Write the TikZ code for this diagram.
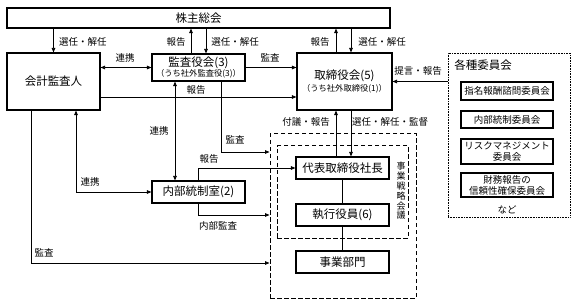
\documentclass[tikz,border=0pt]{standalone}
\usepackage{fontspec}
\setmainfont{Noto Sans CJK JP}
\usetikzlibrary{arrows.meta,calc}
\begin{document}
\begin{tikzpicture}[x=1pt,y=-1pt,
  box/.style={draw, line width=1.1pt, inner sep=0pt, align=center, font=\fontsize{11.5}{13}\selectfont},
  cbox/.style={draw, line width=1.1pt, inner sep=0pt, align=center, minimum width=92pt, font=\fontsize{9.5}{11}\selectfont},
  lbl/.style={inner sep=0pt, font=\fontsize{9.5}{11}\selectfont},
  con/.style={line width=0.8pt},
  arr/.style={con, -{Triangle[length=4.5pt,width=3.6pt]}},
  arrb/.style={con, {Triangle[length=4.5pt,width=3.6pt]}-{Triangle[length=4.5pt,width=3.6pt]}},
  dashbox/.style={draw, line width=1pt, dash pattern=on 4.5pt off 2.5pt, inner sep=0pt},
  dotbox/.style={draw, line width=0.8pt, dash pattern=on 0.8pt off 0.8pt, inner sep=0pt}]
\useasboundingbox (0,0) rectangle (574,305);

% dashed / dotted frames
\node[dashbox, minimum width=146pt, minimum height=164pt] (ob) at (343,216) {};
\node[dashbox, minimum width=131pt, minimum height=92pt] (ib) at (342.5,192) {};
\node[dotbox, minimum width=122pt, minimum height=164pt] (kc) at (509,135) {};

% main boxes
\node[box, minimum width=383pt, minimum height=20pt] (sh) at (198.5,18) {株主総会};
\node[box, minimum width=93pt, minimum height=57pt] (ka) at (53.5,81.5) {会計監査人};
\node[box, minimum width=93pt, minimum height=27pt] (ky) at (198.5,67.5) {監査役会(3)\\[-2.5pt]{\fontsize{8.3}{9}\selectfont （うち社外監査役(3)）}};
\node[box, minimum width=95pt, minimum height=57pt] (tr) at (344.5,81.5) {取締役会(5)\\[-1pt]{\fontsize{8.3}{9}\selectfont （うち社外取締役(1)）}};
\node[box, minimum width=93pt, minimum height=22pt] (nb) at (198.5,192) {内部統制室(2)};
\node[box, minimum width=93pt, minimum height=22pt] (dh) at (342.5,168) {代表取締役社長};
\node[box, minimum width=93pt, minimum height=22pt] (sy) at (342.5,215) {執行役員(6)};
\node[box, minimum width=93pt, minimum height=22pt] (jb) at (342.5,262) {事業部門};

% committees
\node[lbl, font=\fontsize{11.5}{13}\selectfont] (kt) at (483,65) {各種委員会};
\node[cbox, minimum height=18pt] (c1) at (507,91) {指名報酬諮問委員会};
\node[cbox, minimum height=17pt] (c2) at (507,119.5) {内部統制委員会};
\node[cbox, minimum height=25pt] (c3) at (507,151.5) {リスクマネジメント\\委員会};
\node[cbox, minimum height=24pt] (c4) at (507,185) {財務報告の\\信頼性確保委員会};
\node[lbl] (nd) at (507,210) {など};

% vertical label
\node[lbl, align=center, font=\fontsize{9}{9.8}\selectfont] (vt) at (401,191) {事\\業\\戦\\略\\会\\議};

% connectors
\draw[arr] (ka.north |- sh.south) -- (ka.north);
\coordinate (a1) at ($(ky.north)+(-7.5,0)$);
\coordinate (a2) at ($(ky.north)+(7.5,0)$);
\draw[arr] (a1) -- (a1 |- sh.south);
\draw[arr] (a2 |- sh.south) -- (a2);
\coordinate (b1) at ($(tr.north)+(-8.5,0)$);
\coordinate (b2) at ($(tr.north)+(6.5,0)$);
\draw[arr] (b1) -- (b1 |- sh.south);
\draw[arr] (b2 |- sh.south) -- (b2);

\draw[arrb] (ka.east |- ky.west) -- (ky.west);
\draw[arr] (ky.east) -- (ky.east -| tr.west);
\coordinate (k1) at ($(ka.east)+(0,15.5)$);
\draw[arr] (k1) -- (k1 -| tr.west);
\draw[arr] (kc.west |- tr.east) -- (tr.east);

\coordinate (v1) at ($(ky.south)+(-23.5,0)$);
\draw[arrb] (v1) -- (v1 |- nb.north);
\coordinate (v2) at ($(ky.south)+(22.5,0)$);
\draw[arr] (v2) |- ($(ob.west)+(0,-64)$);
\coordinate (v3) at ($(ka.south)+(-22.5,0)$);
\draw[arr] (v3) |- ($(ob.west)+(0,47)$);
\coordinate (v4) at ($(ka.south)+(22.5,0)$);
\draw[arrb] (v4) |- (nb.west);
\draw[arr] (nb.north) |- (dh.west);
\draw[arr] (nb.south) |- (ob.west |- sy.west);

\coordinate (d1) at ($(dh.north)+(-6.5,0)$);
\coordinate (d2) at ($(dh.north)+(8.5,0)$);
\draw[arr] (d1) -- (d1 |- tr.south);
\draw[arr] (d2 |- tr.south) -- (d2);
\draw[con] (dh.south) -- (sy.north);
\draw[con] (sy.south) -- (jb.north);

% labels
\node[lbl] (l1) at (83,42) {選任・解任};
\node[lbl] (l2) at (176,42) {報告};
\node[lbl] (l3) at (235,42) {選任・解任};
\node[lbl] (l4) at (320,42) {報告};
\node[lbl] (l5) at (382,42) {選任・解任};
\node[lbl] (l6) at (125,58) {連携};
\node[lbl] (l7) at (270,58) {監査};
\node[lbl] (l8) at (196,90) {報告};
\node[lbl] (l9) at (418,71) {提言・報告};
\node[lbl] (l10) at (159,131) {連携};
\node[lbl] (l11) at (235,140) {監査};
\node[lbl] (l12) at (306,122) {付議・報告};
\node[lbl] (l13) at (390,122) {選任・解任・監督};
\node[lbl] (l14) at (209,159) {報告};
\node[lbl] (l15) at (90,182) {連携};
\node[lbl] (l16) at (218,226) {内部監査};
\node[lbl] (l17) at (44,253) {監査};
\end{tikzpicture}
\end{document}
